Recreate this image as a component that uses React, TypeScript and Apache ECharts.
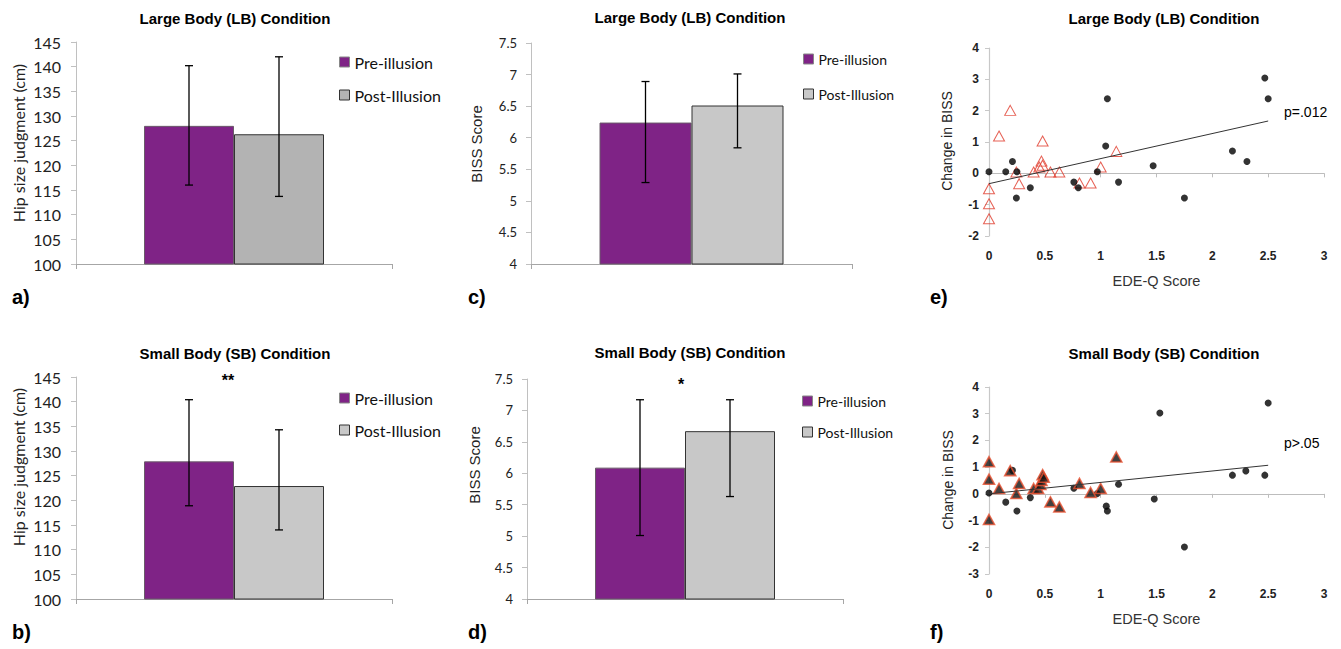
import React, { useEffect, useRef } from "react";
import * as echarts from "echarts";

// ---------- data ----------
const groups = ["Pre-illusion", "Post-Illusion"];

const hipLBMeans = [128.0, 126.3];
const hipLBLow = [116.0, 113.7];
const hipLBHigh = [140.2, 142.0];

const hipSBMeans = [127.9, 122.9];
const hipSBLow = [118.9, 114.0];
const hipSBHigh = [140.4, 134.3];

const bissLBMeans = [6.24, 6.51];
const bissLBLow = [5.29, 5.84];
const bissLBHigh = [6.89, 7.01];

const bissSBMeans = [6.09, 6.67];
const bissSBLow = [5.01, 5.63];
const bissSBHigh = [7.17, 7.17];

const hipTicks = { min: 100, max: 145, interval: 5 };
const bissTicks = { min: 4, max: 7.5, interval: 0.5 };

// e) Large Body scatter
const lbDotsX = [0, 0.15, 0.21, 0.25, 0.245, 0.37, 0.76, 0.8, 0.97, 1.045, 1.06, 1.16, 1.47, 1.75, 2.18, 2.31, 2.47, 2.5];
const lbDotsY = [0.05, 0.05, 0.38, 0.05, -0.79, -0.46, -0.28, -0.46, 0.05, 0.87, 2.38, -0.28, 0.24, -0.79, 0.71, 0.38, 3.04, 2.38];
const lbTriX = [0, 0, 0, 0.09, 0.19, 0.245, 0.27, 0.4, 0.45, 0.47, 0.48, 0.48, 0.55, 0.63, 0.81, 0.91, 1.0, 1.14];
const lbTriY = [-0.49, -0.97, -1.45, 1.19, 2.01, 0.04, -0.33, 0.04, 0.2, 0.39, 0.26, 1.03, 0.04, 0.04, -0.31, -0.31, 0.2, 0.7];
const lbFitX = [0, 2.5];
const lbFitY = [-0.33, 1.67];

// f) Small Body scatter
const sbDotsX = [0, 0.15, 0.21, 0.25, 0.37, 0.76, 0.97, 1.05, 1.06, 1.16, 1.48, 1.53, 1.75, 2.18, 2.3, 2.47, 2.5];
const sbDotsY = [0.03, -0.31, 0.88, -0.64, -0.14, 0.21, 0.01, -0.46, -0.64, 0.36, -0.19, 3.03, -1.99, 0.7, 0.86, 0.7, 3.4];
const sbTriX = [0, 0, 0, 0.09, 0.19, 0.245, 0.27, 0.4, 0.44, 0.46, 0.47, 0.48, 0.49, 0.55, 0.63, 0.81, 0.91, 1.0, 1.14];
const sbTriY = [1.2, 0.55, -0.96, 0.2, 0.87, 0.01, 0.39, 0.2, 0.2, 0.35, 0.5, 0.72, 0.62, -0.3, -0.49, 0.39, 0.05, 0.2, 1.38];
const sbFitX = [0, 2.5];
const sbFitY = [0, 1.07];

const scatterXTicks = { min: 0, max: 3, interval: 0.5 };
const lbYTicks = { min: -2, max: 4, interval: 1 };
const sbYTicks = { min: -3, max: 4, interval: 1 };

// ---------- styles ----------
const PURPLE = "#7f2386";
const GRAY_DARK = "#b3b3b3";
const GRAY = "#c8c8c8";
const RED = "#e0392b";
const ARIAL = "'Liberation Sans', Arial, sans-serif";
const CAL = "Lato, 'Open Sans', sans-serif";

const zip = (xs: number[], ys: number[]) => xs.map((x, i) => [x, ys[i]]);

function barPanel(
  idx: number,
  means: number[],
  lows: number[],
  highs: number[],
  barWidth: number,
  postColor: string
) {
  const series: any[] = groups.map((g, i) => ({
    type: "bar",
    name: g,
    xAxisIndex: idx,
    yAxisIndex: idx,
    data: [means[i]],
    barWidth,
    barGap: "0%",
    itemStyle: {
      color: i === 0 ? PURPLE : postColor,
      borderColor: i === 0 ? "#6a5a6a" : "#333",
      borderWidth: 1,
    },
  }));
  series.push({
    type: "custom",
    xAxisIndex: idx,
    yAxisIndex: idx,
    z: 5,
    encode: { x: 0, y: [1, 2] },
    data: groups.map((_, i) => [0, lows[i], highs[i], i]),
    renderItem: (_p: any, api: any) => {
      const lo = api.coord([0, api.value(1)]);
      const hi = api.coord([0, api.value(2)]);
      const x = lo[0] + (api.value(3) - 0.5) * barWidth;
      const cap = 4;
      const st = { stroke: "#000", lineWidth: 1.3 };
      return {
        type: "group",
        children: [
          { type: "line", shape: { x1: x, y1: lo[1], x2: x, y2: hi[1] }, style: st },
          { type: "line", shape: { x1: x - cap, y1: lo[1], x2: x + cap, y2: lo[1] }, style: st },
          { type: "line", shape: { x1: x - cap, y1: hi[1], x2: x + cap, y2: hi[1] }, style: st },
        ],
      };
    },
  });
  return series;
}

function barXAxis(idx: number) {
  return {
    type: "category",
    gridIndex: idx,
    data: [""],
    axisLine: { lineStyle: { color: "#a6a6a6", width: 1 } },
    axisTick: { show: true, length: 5, lineStyle: { color: "#a6a6a6" } },
    axisLabel: { show: false },
    splitLine: { show: false },
  };
}

function barYAxis(idx: number, ticks: any, labelSize: number, labelMargin: number) {
  return {
    type: "value",
    gridIndex: idx,
    ...ticks,
    axisLine: { show: true, lineStyle: { color: "#c0c0c0" } },
    axisTick: { show: true, length: 5, lineStyle: { color: "#c0c0c0" } },
    axisLabel: { fontFamily: CAL, fontSize: labelSize, color: "#222", margin: labelMargin },
    splitLine: { show: false },
  };
}

function scatterXAxes(idx: number) {
  return [
    {
      type: "value",
      gridIndex: idx,
      position: "bottom",
      ...scatterXTicks,
      name: "EDE-Q Score",
      nameLocation: "middle",
      nameGap: 37,
      nameTextStyle: { fontFamily: ARIAL, fontSize: 14.5, color: "#333" },
      axisLine: { show: false, onZero: false },
      axisTick: { show: false },
      axisLabel: { fontFamily: ARIAL, fontSize: 12, fontWeight: "bold", color: "#222", margin: 14 },
      splitLine: { show: false },
    },
    {
      type: "value",
      gridIndex: idx,
      position: "top",
      ...scatterXTicks,
      axisLine: { show: true, onZero: true, lineStyle: { color: "#bdbdbd", width: 1.2 } },
      axisTick: { show: true, inside: true, length: 4, lineStyle: { color: "#bdbdbd" } },
      axisLabel: { show: false },
      splitLine: { show: false },
    },
  ];
}

function scatterYAxis(idx: number, ticks: any) {
  return {
    type: "value",
    gridIndex: idx,
    ...ticks,
    axisLine: { show: true, lineStyle: { color: "#c8c8c8", width: 1.2 } },
    axisTick: { show: true, length: 4, lineStyle: { color: "#c8c8c8" } },
    axisLabel: { fontFamily: ARIAL, fontSize: 12, fontWeight: "bold", color: "#222", margin: 10 },
    splitLine: { show: false },
  };
}

function legend(left: number, top: number, gap: number, size: number, postColor: string) {
  return {
    orient: "vertical",
    left,
    top,
    itemWidth: 10,
    itemHeight: 10,
    itemGap: gap,
    selectedMode: false,
    icon: "rect",
    textStyle: { fontFamily: CAL, fontSize: size, color: "#111" },
    data: [
      { name: groups[0], itemStyle: { color: PURPLE, borderColor: "#888", borderWidth: 1 } },
      { name: groups[1], itemStyle: { color: postColor, borderColor: "#333", borderWidth: 1 } },
    ],
  };
}

function txt(text: string, x: number, y: number, size: number, bold: boolean, align = "center", family = ARIAL, rotation = 0, fill = "#000") {
  return {
    type: "text",
    x,
    y,
    rotation,
    style: {
      text,
      fontFamily: family,
      fontSize: size,
      fontWeight: bold ? "bold" : "normal",
      fill,
      align,
      verticalAlign: "middle",
    },
  };
}

const vname = (text: string, x: number, y: number, size: number, family: string) =>
  txt(text, x, y, size, false, "center", family, Math.PI / 2, "#222");

export default function App() {
  const ref = useRef<HTMLDivElement>(null);
  useEffect(() => {
    document.body.style.margin = "0";
    const chart = echarts.init(ref.current!, null, { renderer: "svg" });
    const option: any = {
      animation: false,
      backgroundColor: "#fff",
      grid: [
        { left: 76, top: 42, width: 316, height: 222 },
        { left: 76, top: 377, width: 316, height: 222 },
        { left: 531, top: 43, width: 321, height: 221 },
        { left: 527, top: 379, width: 316, height: 220 },
        { left: 989, top: 48, width: 335, height: 188 },
        { left: 989, top: 387, width: 335, height: 187 },
      ],
      xAxis: [
        barXAxis(0),
        barXAxis(1),
        barXAxis(2),
        barXAxis(3),
        ...scatterXAxes(4),
        ...scatterXAxes(5),
      ],
      yAxis: [
        barYAxis(0, hipTicks, 16, 15),
        barYAxis(1, hipTicks, 16, 15),
        barYAxis(2, bissTicks, 13, 14),
        barYAxis(3, bissTicks, 13, 14),
        scatterYAxis(4, lbYTicks),
        scatterYAxis(5, sbYTicks),
      ],
      legend: [
        legend(334, 49, 17, 16, GRAY_DARK),
        legend(334, 385, 16, 16, GRAY),
        legend(798, 47, 21, 14, GRAY),
        legend(797, 389, 17, 14, GRAY),
      ],
      series: [
        ...barPanel(0, hipLBMeans, hipLBLow, hipLBHigh, 90, GRAY_DARK),
        ...barPanel(1, hipSBMeans, hipSBLow, hipSBHigh, 90, GRAY),
        ...barPanel(2, bissLBMeans, bissLBLow, bissLBHigh, 92, GRAY),
        ...barPanel(3, bissSBMeans, bissSBLow, bissSBHigh, 90, GRAY),
        {
          type: "scatter",
          xAxisIndex: 4,
          yAxisIndex: 4,
          symbol: "triangle",
          symbolSize: [11, 10],
          itemStyle: { color: "rgba(255,255,255,0)", borderColor: RED, borderWidth: 1 },
          data: zip(lbTriX, lbTriY),
        },
        {
          type: "scatter",
          xAxisIndex: 4,
          yAxisIndex: 4,
          symbolSize: 7,
          itemStyle: { color: "#000" },
          data: zip(lbDotsX, lbDotsY),
        },
        {
          type: "line",
          xAxisIndex: 4,
          yAxisIndex: 4,
          symbol: "none",
          lineStyle: { color: "#333", width: 1 },
          data: zip(lbFitX, lbFitY),
        },
        {
          type: "scatter",
          xAxisIndex: 6,
          yAxisIndex: 5,
          symbolSize: 7,
          itemStyle: { color: "#000" },
          data: zip(sbDotsX, sbDotsY),
        },
        {
          type: "scatter",
          xAxisIndex: 6,
          yAxisIndex: 5,
          symbol: "triangle",
          symbolSize: [11, 10],
          itemStyle: { color: "#111", borderColor: "#e8502f", borderWidth: 1.6 },
          data: zip(sbTriX, sbTriY),
        },
        {
          type: "line",
          xAxisIndex: 6,
          yAxisIndex: 5,
          symbol: "none",
          lineStyle: { color: "#333", width: 1 },
          data: zip(sbFitX, sbFitY),
        },
      ],
      graphic: [
        txt("Large Body (LB) Condition", 235, 18, 15, true),
        txt("Large Body (LB) Condition", 690, 17, 15, true),
        txt("Large Body (LB) Condition", 1164, 18, 15, true),
        txt("Small Body (SB) Condition", 235, 353, 15, true),
        txt("Small Body (SB) Condition", 690, 352, 15, true),
        txt("Small Body (SB) Condition", 1164, 353, 15, true),
        vname("Hip size judgment (cm)", 18, 143, 16, CAL),
        vname("Hip size judgment (cm)", 18, 467, 16, CAL),
        vname("BISS Score", 476, 144, 15, ARIAL),
        vname("BISS Score", 474, 465, 15, ARIAL),
        vname("Change in BISS", 947, 141, 14, ARIAL),
        vname("Change in BISS", 948, 480, 14, ARIAL),
        txt("**", 228, 380, 16, true),
        txt("*", 681, 384, 16, true),
        txt("p=.012", 1284, 112, 14, false, "left"),
        txt("p>.05", 1284, 443, 14, false, "left"),
        txt("a)", 12, 297, 20, true, "left"),
        txt("b)", 12, 632, 20, true, "left"),
        txt("c)", 468, 297, 20, true, "left"),
        txt("d)", 468, 632, 20, true, "left"),
        txt("e)", 930, 297, 20, true, "left"),
        txt("f)", 930, 632, 20, true, "left"),
      ],
    };
    chart.setOption(option);
    return () => chart.dispose();
  }, []);
  return (
    <div
      ref={ref}
      style={{ position: "absolute", left: 0, top: 0, width: 1341, height: 649 }}
    />
  );
}
